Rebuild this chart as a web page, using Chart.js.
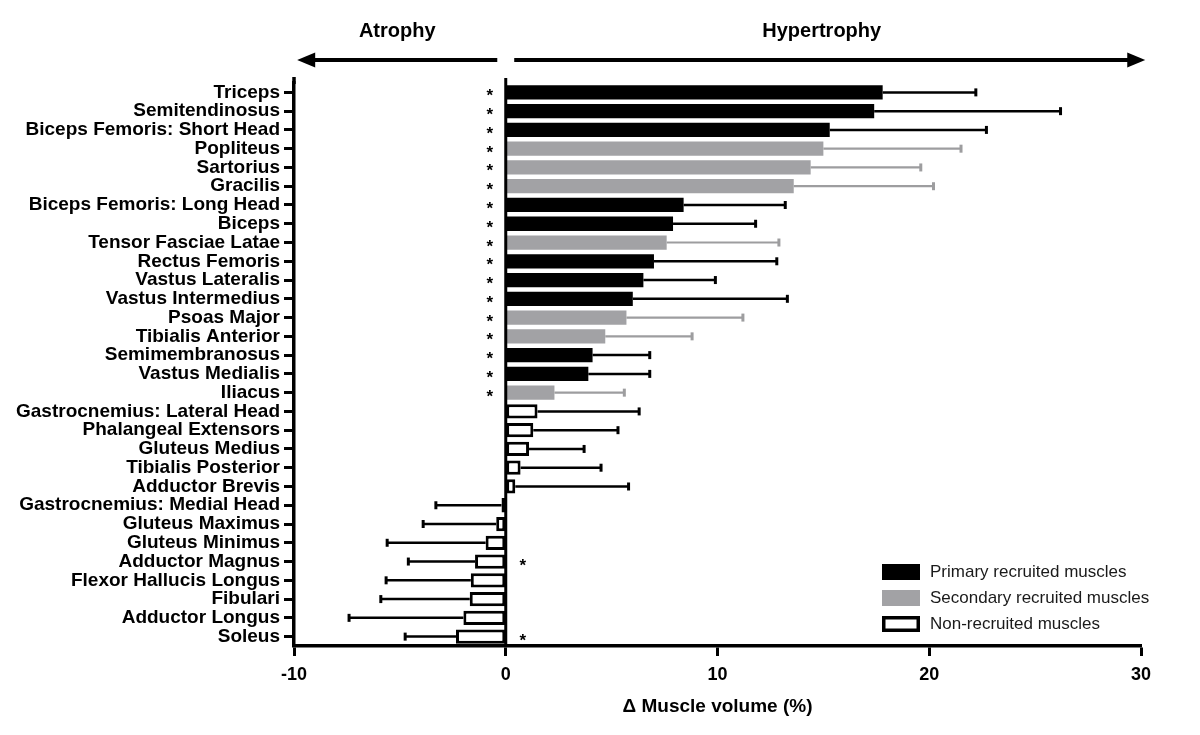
<!DOCTYPE html>
<html><head><meta charset="utf-8">
<script src="https://cdn.jsdelivr.net/npm/chart.js@4.4.0/dist/chart.umd.min.js"></script>
<style>html,body{margin:0;padding:0;background:#fff;}#wrap{width:1200px;height:735px;}</style>
</head><body><div id="wrap"><canvas id="c" width="1200" height="735"></canvas></div>
<script>
const muscles = ['Triceps','Semitendinosus','Biceps Femoris: Short Head','Popliteus','Sartorius','Gracilis',
  'Biceps Femoris: Long Head','Biceps','Tensor Fasciae Latae','Rectus Femoris','Vastus Lateralis',
  'Vastus Intermedius','Psoas Major','Tibialis Anterior','Semimembranosus','Vastus Medialis','Iliacus',
  'Gastrocnemius: Lateral Head','Phalangeal Extensors','Gluteus Medius','Tibialis Posterior','Adductor Brevis',
  'Gastrocnemius: Medial Head','Gluteus Maximus','Gluteus Minimus','Adductor Magnus','Flexor Hallucis Longus',
  'Fibulari','Adductor Longus','Soleus'];
const change = [17.8,17.4,15.3,15.0,14.4,13.6,8.4,7.9,7.6,7.0,6.5,6.0,5.7,4.7,4.1,3.9,2.3,
  1.5,1.3,1.1,0.7,0.45,-0.2,-0.45,-0.95,-1.45,-1.65,-1.7,-2.0,-2.35];
const errors = [4.4,8.8,7.4,6.5,5.2,6.6,4.8,3.9,5.3,5.8,3.4,7.3,5.5,4.1,2.7,2.9,3.3,
  4.8,4.0,2.6,3.8,5.35,3.1,3.45,4.65,3.15,4.0,4.2,5.4,2.4];
const groups = ['P','P','P','S','S','S','P','P','S','P','P','P','S','S','P','P','S',
  'N','N','N','N','N','N','N','N','N','N','N','N','N'];
const significant = [1,1,1,1,1,1,1,1,1,1,1,1,1,1,1,1,1,0,0,0,0,0,0,0,0,1,0,0,0,1];
const groupKeys = ['P','S','N'];
const groupNames = ['Primary recruited muscles','Secondary recruited muscles','Non-recruited muscles'];
const xTickValues = [-10,0,10,20,30];
const headerLeft = 'Atrophy';
const headerRight = 'Hypertrophy';
const xTitle = '\u0394 Muscle volume (%)';

const GRAY = '#a2a2a5';
const GRAY_ERR = '#9d9d9f';
const SANS = "'Liberation Sans',Arial,Helvetica,sans-serif";
const fills = {P:'#000000', S:GRAY, N:'#ffffff'};
const borders = {P:'#000000', S:GRAY, N:'#000000'};

const datasets = groupKeys.map((g,k)=>({
  label: groupNames[k],
  data: change.map((v,i)=> groups[i]===g ? v : null),
  backgroundColor: fills[g],
  borderColor: borders[g],
  borderWidth: g==='N' ? 3 : 0,
  borderSkipped: false,
  grouped: false,
  barPercentage: 0.76,
  categoryPercentage: 1
}));

function line(ctx,x1,y1,x2,y2){ctx.beginPath();ctx.moveTo(x1,y1);ctx.lineTo(x2,y2);ctx.stroke();}

const overlay = {
  id:'overlay',
  afterDatasetsDraw(chart){
    const {ctx, chartArea:a, scales:{x,y}} = chart;
    ctx.save();
    const x0 = x.getPixelForValue(0);
    ctx.strokeStyle='#000'; ctx.lineWidth=3;
    line(ctx,x0,a.top-5,x0,a.bottom);
    ctx.lineWidth=3.5;
    line(ctx,a.left,a.top-6,a.left,a.top+1);
    muscles.forEach((m,i)=>{
      const v=change[i], e=errors[i];
      const end = v + (v<0?-1:1)*e;
      const py = y.getPixelForValue(i);
      const p1 = x.getPixelForValue(v), p2 = x.getPixelForValue(end);
      ctx.strokeStyle = groups[i]==='S' ? GRAY_ERR : '#000';
      ctx.lineWidth = groups[i]==='S' ? 2.2 : 2.5;
      line(ctx,p1,py,p2,py);
      ctx.lineWidth = 3;
      line(ctx,p2,py-4,p2,py+4);
      if (significant[i]) {
        ctx.fillStyle='#000';
        ctx.font = "bold 17px "+SANS;
        ctx.textAlign='center'; ctx.textBaseline='alphabetic';
        const sx = v>=0 ? x.getPixelForValue(-0.75) : x.getPixelForValue(0.8);
        ctx.fillText('*', sx, py+9);
      }
    });
    ctx.restore();
  },
  afterDraw(chart){
    const {ctx, chartArea:a, scales:{x}} = chart;
    ctx.save();
    const ay = a.top - 23;
    ctx.strokeStyle='#000'; ctx.fillStyle='#000'; ctx.lineWidth=4;
    const lt = x.getPixelForValue(-9.85), le = x.getPixelForValue(-0.4);
    const rs = x.getPixelForValue(0.4), rt = x.getPixelForValue(30.2);
    line(ctx,lt+12,ay,le,ay);
    line(ctx,rs,ay,rt-12,ay);
    ctx.beginPath(); ctx.moveTo(lt,ay); ctx.lineTo(lt+18,ay-7.5); ctx.lineTo(lt+18,ay+7.5); ctx.closePath(); ctx.fill();
    ctx.beginPath(); ctx.moveTo(rt,ay); ctx.lineTo(rt-18,ay-7.5); ctx.lineTo(rt-18,ay+7.5); ctx.closePath(); ctx.fill();
    ctx.font = "bold 20px "+SANS;
    ctx.textAlign='center'; ctx.textBaseline='middle';
    ctx.fillText(headerLeft, (lt+le)/2, a.top-52);
    ctx.fillText(headerRight, (rs+rt)/2 - 8, a.top-52);
    // legend
    const lx = a.right - 259;
    groupKeys.forEach((g,k)=>{
      const cy = a.bottom - 74 + k*26;
      if (g==='N') {
        ctx.fillStyle='#fff'; ctx.fillRect(lx,cy-8,38,16);
        ctx.strokeStyle='#000'; ctx.lineWidth=3.5; ctx.strokeRect(lx+1.75,cy-6.25,34.5,12.5);
      } else {
        ctx.fillStyle=fills[g]; ctx.fillRect(lx,cy-8,38,16);
      }
      ctx.fillStyle='#1a1a1a'; ctx.font="17px "+SANS;
      ctx.textAlign='left'; ctx.textBaseline='middle';
      ctx.fillText(groupNames[k], lx+48, cy);
    });
    ctx.restore();
  }
};

new Chart(document.getElementById('c'), {
  type:'bar',
  data:{labels:muscles, datasets},
  options:{
    indexAxis:'y',
    responsive:false,
    animation:false,
    layout:{padding:{left:0,right:59,top:83,bottom:0}},
    plugins:{legend:{display:false}, tooltip:{enabled:false}},
    scales:{
      x:{
        type:'linear', min:-10, max:30,
        afterBuildTicks:(s)=>{ s.ticks = xTickValues.map(v=>({value:v})); },
        afterFit:(s)=>{ s.height = 89; },
        grid:{drawOnChartArea:false, drawTicks:true, tickLength:10, tickWidth:3, color:'#000'},
        border:{display:true, width:3.5, color:'#000'},
        ticks:{color:'#000', font:{family:SANS, size:18, weight:'bold'}, padding:8},
        title:{display:true, text:xTitle, color:'#000', font:{family:SANS, size:19, weight:'bold'}, padding:{top:0,bottom:17}}
      },
      y:{
        type:'category', offset:true,
        afterFit:(s)=>{ s.width = 294; },
        grid:{drawOnChartArea:false, drawTicks:true, tickLength:10, tickWidth:3, color:'#000', offset:false},
        border:{display:true, width:3.5, color:'#000'},
        ticks:{color:'#000', autoSkip:false, font:{family:SANS, size:19, weight:'bold'}, padding:4}
      }
    }
  },
  plugins:[overlay]
});
</script></body></html>
